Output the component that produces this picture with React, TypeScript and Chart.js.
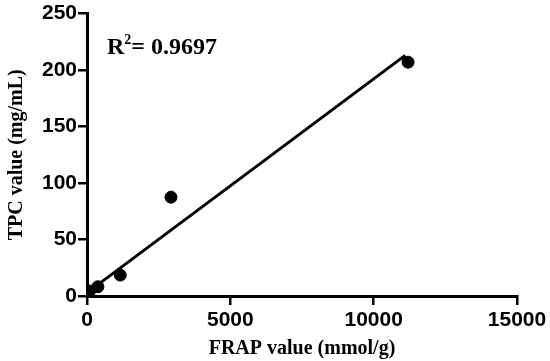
import React, { useEffect, useRef } from "react";
import { Chart, registerables } from "chart.js";

Chart.register(...registerables);

// Data
const frapValues = [90, 380, 1160, 2930, 11200];
const tpcValues = [4.4, 8.2, 18.5, 87.5, 207];
const fitX = [90, 11100];
const fitY = [4.5, 213];
const xTicks = [0, 5000, 10000, 15000];
const yTicks = [0, 50, 100, 150, 200, 250];
const xTitle = "FRAP value (mmol/g)";
const yTitle = "TPC value (mg/mL)";
const r2Label = "0.9697";

const SERIF = "'Liberation Serif', 'Times New Roman', serif";
const SANS = "'Liberation Sans', Arial, sans-serif";

const r2Plugin = {
  id: "r2text",
  afterDraw(chart: any) {
    const { ctx, chartArea } = chart;
    ctx.save();
    ctx.fillStyle = "#000";
    ctx.textBaseline = "alphabetic";
    ctx.textAlign = "left";
    let x = chartArea.left + 20;
    const y = chartArea.top + 40;
    ctx.font = `bold 24px ${SERIF}`;
    ctx.fillText("R", x, y);
    x += ctx.measureText("R").width;
    ctx.font = `bold 14px ${SERIF}`;
    ctx.fillText("2", x, y - 10);
    x += ctx.measureText("2").width;
    ctx.font = `bold 24px ${SERIF}`;
    ctx.fillText("= " + r2Label, x, y);
    ctx.restore();
  },
};

export default function App() {
  const ref = useRef<HTMLCanvasElement | null>(null);
  useEffect(() => {
    if (!ref.current) return;
    const chart = new Chart(ref.current, {
      type: "scatter",
      data: {
        datasets: [
          {
            type: "line",
            data: fitX.map((x, i) => ({ x, y: fitY[i] })),
            borderColor: "#000",
            borderWidth: 3,
            pointRadius: 0,
            showLine: true,
            fill: false,
          } as any,
          {
            type: "scatter",
            data: frapValues.map((x, i) => ({ x, y: tpcValues[i] })),
            backgroundColor: "#000",
            borderColor: "#000",
            pointRadius: 6,
            pointHoverRadius: 6,
          },
        ],
      },
      options: {
        animation: false,
        responsive: false,
        events: [],
        layout: { padding: { top: 13, right: 33, left: 0, bottom: 0 } },
        plugins: { legend: { display: false }, tooltip: { enabled: false } },
        scales: {
          x: {
            type: "linear",
            min: 0,
            max: 15000,
            afterBuildTicks: (s: any) => {
              s.ticks = xTicks.map((v) => ({ value: v }));
            },
            afterFit: (s: any) => {
              s.height = 65;
            },
            ticks: {
              color: "#000",
              font: { family: SANS, weight: "bold", size: 21 },
              padding: 3,
              maxRotation: 0,
              callback: (v: any) => String(v),
            },
            grid: {
              drawOnChartArea: false,
              drawTicks: true,
              tickLength: 9,
              color: "#000",
              lineWidth: 2.5,
            },
            border: { display: true, color: "#000", width: 3 },
            title: {
              display: true,
              text: xTitle,
              color: "#000",
              font: { family: SERIF, weight: "bold", size: 20 },
              padding: { top: 0, bottom: 0 },
            },
          },
          y: {
            type: "linear",
            min: 0,
            max: 250,
            afterBuildTicks: (s: any) => {
              s.ticks = yTicks.map((v) => ({ value: v }));
            },
            afterFit: (s: any) => {
              s.width = 87;
            },
            ticks: {
              color: "#000",
              font: { family: SANS, weight: "bold", size: 21 },
              padding: 1,
              callback: (v: any) => String(v),
            },
            grid: {
              drawOnChartArea: false,
              drawTicks: true,
              tickLength: 9,
              color: "#000",
              lineWidth: 2.5,
            },
            border: { display: true, color: "#000", width: 3 },
            title: {
              display: true,
              text: yTitle,
              color: "#000",
              font: { family: SERIF, weight: "bold", size: 20 },
              padding: { top: 5, bottom: 0 },
            },
          },
        },
      },
      plugins: [r2Plugin],
    });
    return () => chart.destroy();
  }, []);
  return (
    <div style={{ position: "absolute", left: 0, top: 0, width: 550, height: 361, background: "#fff" }}>
      <canvas ref={ref} width={550} height={361} />
    </div>
  );
}
